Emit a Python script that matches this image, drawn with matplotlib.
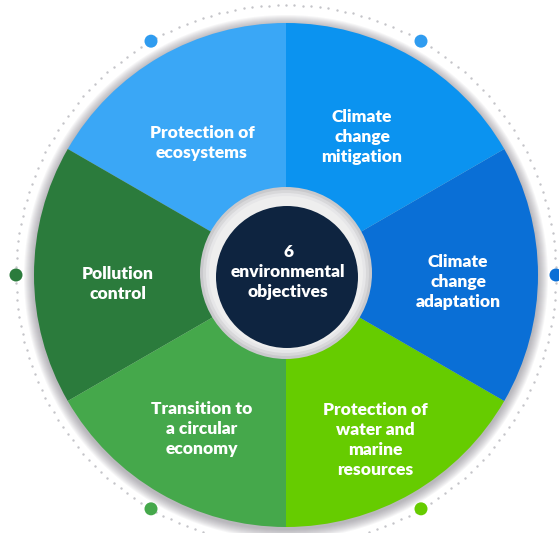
import numpy as np
import matplotlib.pyplot as plt
from matplotlib.patches import Circle

plt.rcParams['font.family'] = ['Lato', 'DejaVu Sans']

# data
objectives = ['Protection of\necosystems', 'Pollution\ncontrol',
              'Transition to\na circular\neconomy',
              'Protection of\nwater and\nmarine\nresources',
              'Climate\nchange\nadaptation', 'Climate\nchange\nmitigation']
shares = [1, 1, 1, 1, 1, 1]
colors = ['#3aa7f6', '#2b7b3c', '#45a84b', '#66cc00', '#0a6fd6', '#0b93f0']
dot_colors = ['#2f9cf0', '#2b7b3c', '#45a84b', '#66cc00', '#0a6fd6', '#2f9cf0']
center_text = '6\nenvironmental\nobjectives'

# layout (pixel space, y up)
W, H = 559, 533
cx, cy = 286, 258
R = 252
ring_r = 270
label_xy = [(202, 390), (118, 249), (202, 104), (375, 93), (458, 251), (362, 396)]

fig = plt.figure(figsize=(W / 100, H / 100), dpi=100)
ax = fig.add_axes([0, 0, 1, 1])

# soft shadow behind the ring
for k in range(10):
    ax.add_patch(Circle((cx, cy - 2), R + 1 + k, color='#6e6a75',
                        alpha=0.06, lw=0, zorder=0))

# dotted outer ring
t = np.linspace(0, 2 * np.pi, 200, endpoint=False)
ax.scatter(cx + ring_r * np.cos(t), cy + ring_r * np.sin(t), s=3,
           color='#c4c4c8', lw=0, zorder=1)

wedges, _ = ax.pie(shares, colors=colors, startangle=90, counterclock=True,
                   radius=R, center=(cx, cy), frame=True,
                   wedgeprops=dict(linewidth=0, zorder=2))

# big dots on the dotted ring, one per wedge
for w, c in zip(wedges, dot_colors):
    a = np.deg2rad(w.theta1 + 30)
    ax.add_patch(Circle((cx + ring_r * np.cos(a), cy + ring_r * np.sin(a)), 6.5,
                        color=c, lw=0, zorder=3))

for (x, y), lab in zip(label_xy, objectives):
    ax.text(x, y, lab, ha='center', va='center', color='white',
            fontsize=12.5, fontweight='heavy', linespacing=1.3, zorder=5)

# center hub
for k, col in enumerate(['#c9c9cc', '#d8d8da', '#e6e6e8', '#eeeeee']):
    ax.add_patch(Circle((cx, cy + 2), 86 - 3 * k, color=col, lw=0, zorder=3))
ax.add_patch(Circle((cx + 1, cy - 2), 71, color='#0e2440', lw=0, zorder=4))
ax.text(cx + 2, cy + 3, center_text, ha='center', va='center', color='white',
        fontsize=12.5, fontweight='heavy', linespacing=1.3, zorder=5)

ax.set_xlim(0, W)
ax.set_ylim(0, H)
ax.set_aspect('equal')
ax.axis('off')
fig.savefig('out.png', dpi=100)
